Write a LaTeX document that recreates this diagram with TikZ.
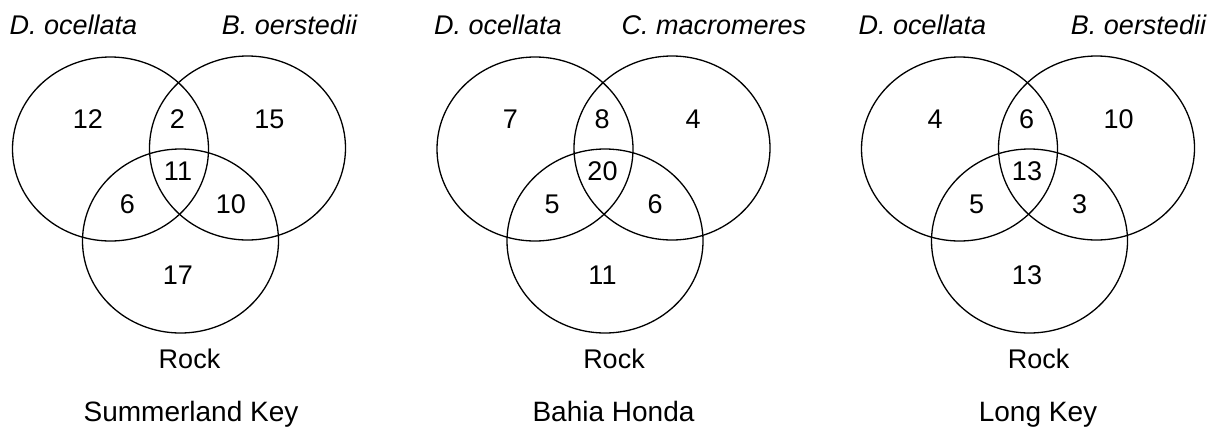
\documentclass[tikz,border=0pt]{standalone}
\usepackage{fontspec}
\setmainfont{Liberation Sans}
\usetikzlibrary{shapes.geometric}
\begin{document}
\begin{tikzpicture}[x=1pt,y=-1pt,
  set/.style={draw,ellipse,line width=1.3pt,minimum width=196pt,minimum height=184pt,inner sep=0pt},
  txt/.style={anchor=base,inner sep=0pt,font=\fontsize{27}{32}\selectfont},
  ttl/.style={anchor=base,inner sep=0pt,font=\fontsize{28}{32}\selectfont},
  sp/.style={txt,font=\fontsize{27}{32}\selectfont\itshape}]
\useasboundingbox (0,0) rectangle (1217,428);
% ---------- Summerland Key ----------
\begin{scope}[xshift=0pt]
\node[set] (a1) at (110.5,149) {};
\node[set] (b1) at (247.5,148) {};
\node[set] (c1) at (180.5,241) {};
\node[sp] (la1) at (73.5,35) {D. ocellata};
\node[sp] (lb1) at (289.5,35) {B. oerstedii};
\node[txt] (n1a) at (88,128) {12};
\node[txt] (n1b) at (177.5,128) {2};
\node[txt] (n1c) at (269.5,128) {15};
\node[txt] (n1d) at (178,180) {11};
\node[txt] (n1e) at (127.5,213) {6};
\node[txt] (n1f) at (231,213) {10};
\node[txt] (n1g) at (178,284) {17};
\node[txt] (r1) at (189.5,368) {Rock};
\node[ttl] (t1) at (191,421) {Summerland Key};
\end{scope}
% ---------- Bahia Honda ----------
\begin{scope}[xshift=424.5pt]
\node[set] (a2) at (110.5,149) {};
\node[set] (b2) at (247.5,148) {};
\node[set] (c2) at (180.5,241) {};
\node[sp] (la2) at (73.5,35) {D. ocellata};
\node[sp] (lb2) at (289.5,35) {C. macromeres};
\node[txt] (n2a) at (86,128) {7};
\node[txt] (n2b) at (177.5,128) {8};
\node[txt] (n2c) at (268.5,128) {4};
\node[txt] (n2d) at (178,180) {20};
\node[txt] (n2e) at (127.5,213) {5};
\node[txt] (n2f) at (230.5,213) {6};
\node[txt] (n2g) at (178,284) {11};
\node[txt] (r2) at (189.5,368) {Rock};
\node[ttl] (t2) at (189,421) {Bahia Honda};
\end{scope}
% ---------- Long Key ----------
\begin{scope}[xshift=849pt]
\node[set] (a3) at (110.5,149) {};
\node[set] (b3) at (247.5,148) {};
\node[set] (c3) at (180.5,241) {};
\node[sp] (la3) at (73.5,35) {D. ocellata};
\node[sp] (lb3) at (289.5,35) {B. oerstedii};
\node[txt] (n3a) at (86,128) {4};
\node[txt] (n3b) at (177.5,128) {6};
\node[txt] (n3c) at (269.5,128) {10};
\node[txt] (n3d) at (178,180) {13};
\node[txt] (n3e) at (127.5,213) {5};
\node[txt] (n3f) at (230.5,213) {3};
\node[txt] (n3g) at (178,284) {13};
\node[txt] (r3) at (189.5,368) {Rock};
\node[ttl] (t3) at (189,421) {Long Key};
\end{scope}
\end{tikzpicture}
\end{document}
